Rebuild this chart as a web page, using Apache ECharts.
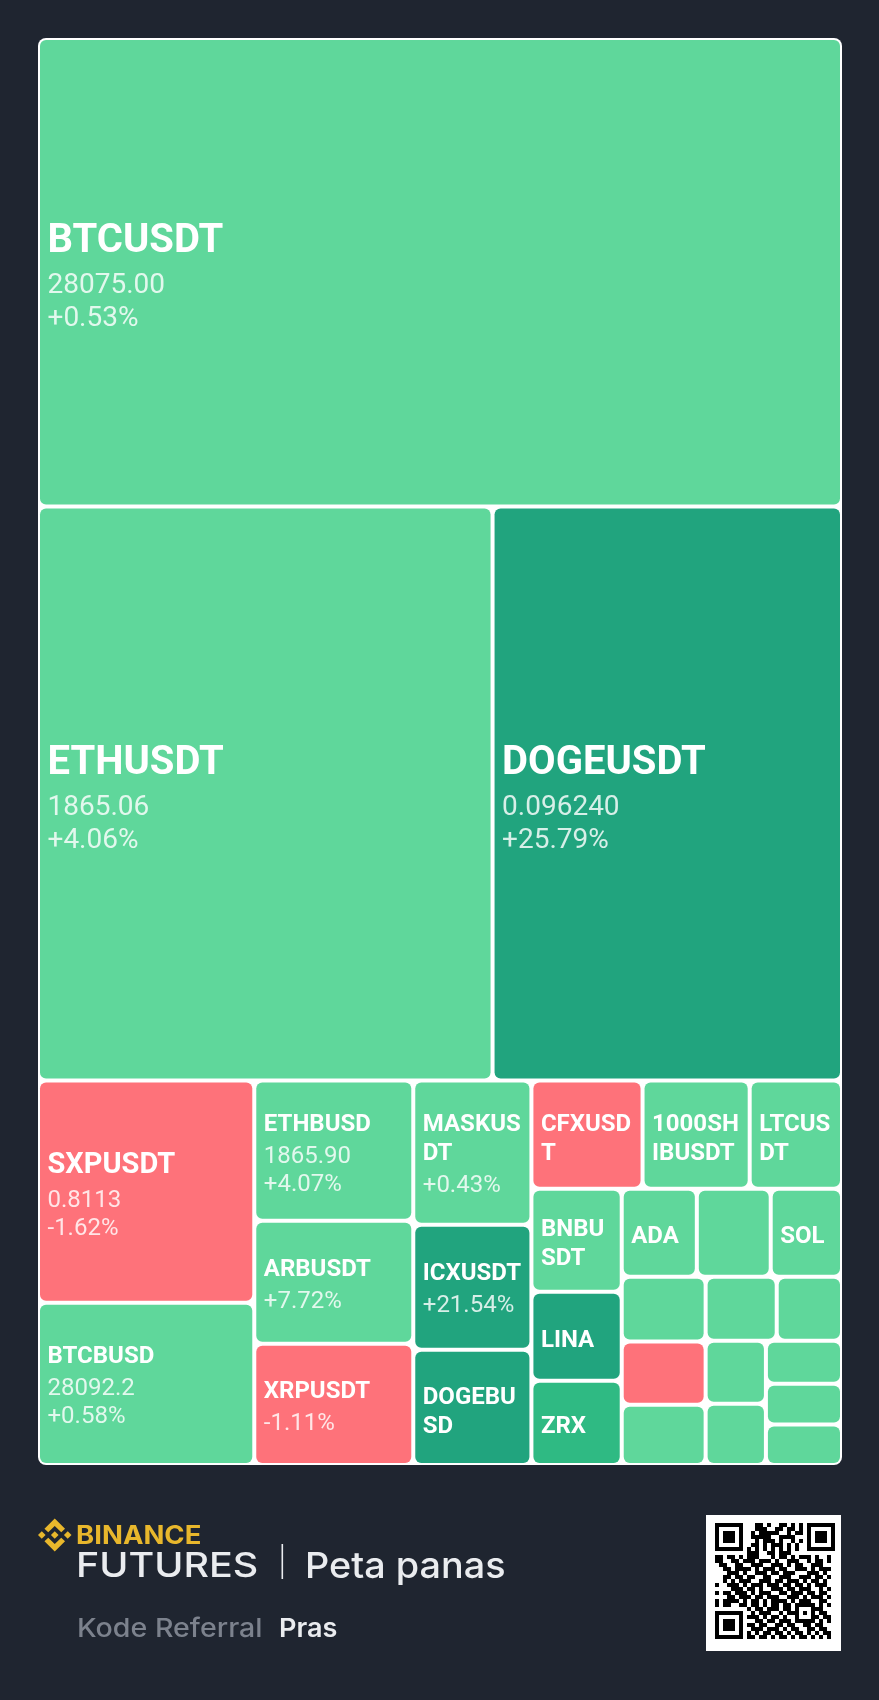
<!DOCTYPE html>
<html><head><meta charset="utf-8">
<style>html,body{margin:0;padding:0;background:#1f2530}#c{width:879px;height:1700px}</style>
<script src="https://cdn.jsdelivr.net/npm/echarts@6/dist/echarts.min.js"></script>
</head><body><div id="c"></div>
<script>
const symbols = ['BTCUSDT','ETHUSDT','DOGEUSDT','SXPUSDT','BTCBUSD','ETHBUSD','ARBUSDT','XRPUSDT','MASKUS\nDT','ICXUSDT','DOGEBU\nSD','CFXUSD\nT','1000SH\nIBUSDT','LTCUS\nDT','BNBU\nSDT','LINA','ZRX','ADA','','SOL','','','','','','','','','',''];
const prices = ['28075.00','1865.06','0.096240','0.8113','28092.2','1865.90'];
const changes = ['+0.53%','+4.06%','+25.79%','-1.62%','+0.58%','+4.07%','+7.72%','-1.11%','+0.43%','+21.54%'];
const weights = [376206,260596,200326,48017,35035,22264,19532,19262,17016,14750,13605,12010,11577,9976,9291,8037,7595,6600,6494,6266,5430,5296,5053,4551,4179,3793,3684,3268,3093,3078];
const tones = ['g','g','d','r','g','g','g','r','g','d','d','r','g','g','g','d','m','g','g','g','g','r','g','g','g','g','g','g','g','g'];
const nameSizes = [40,40,40,29];
const priceSizes = [28,28,28,24];
const labelTops = [174,227.5,227.5,62,34.5,24.2,29.2,27.8,31.2,29.5,34.8,31.2,31.2,31.2,28.2,28.8,25.8,28.8,0,28.8];
const palette = {g:'#5fd79b',d:'#21a47e',m:'#2fba83',r:'#fe727a'};
const layoutTree = [0,[1,2],[[3,4],[[5,6,7],[[8,9,10],[[11,12,13],[[14,15,16],[[17,18,19],[[20,21,22],[[23,24],[[25,26],[27,28,29]]]]]]]]]]];
const qrRows = [
"11111110001101001101010"+"1111111",
"10000010001110011011010"+"1000001",
"10111010010111110010110"+"1011101",
"10111010011111001111000"+"1011101",
"10111010001011101001010"+"1011101",
"10000010011010111010100"+"1000001",
"11111110101010101010100"+"1111111",
"00000000"+"1110011011100"+"00000000",
"11011010111000101101011101001",
"11001101110111010011100101101",
"01100110011100111010110011100",
"00110111101011101100111010111",
"00011101001110110111000111010",
"00110110110011001110011101101",
"00101011100111011011101011010",
"10011101011101110110110101110",
"00001110110100111011011100101",
"10110111010111001101110110110",
"00011011101101110011101011101",
"10111101011010111101011100110",
"10110011011010110110"+"11111"+"0101",
"00000000"+"101101110110"+"10001"+"1100",
"11111110"+"010111001011"+"10101"+"0110",
"10000010"+"111010110100"+"10001"+"1011",
"10111010"+"001101101110"+"11111"+"0101",
"10111010"+"110110011011"+"00110"+"1100",
"10111010"+"011101110101"+"10011"+"0110",
"10000010"+"101011011010"+"11010"+"1011",
"11111110"+"110110101101"+"01101"+"0101"
];
const logoShapes = [
 [[38.73,53.2],[63.3,28.63],[87.89,53.21],[102.19,38.91],[63.3,0],[24.42,38.9]],
 [[0,63.31],[14.3,49.01],[28.6,63.31],[14.3,77.61]],
 [[38.73,73.41],[63.3,97.98],[87.9,73.4],[102.2,87.69],[63.3,126.61],[24.42,87.72]],
 [[98.02,63.31],[112.32,49.01],[126.62,63.31],[112.32,77.61]],
 [[77.81,63.3],[63.3,48.79],[48.79,63.29],[63.3,77.8]]
];

function leaf(i){
  const nm = symbols[i];
  const ns = nameSizes[i] || 24, ps = priceSizes[i] || 24;
  const big = i < 3, mid = i === 3;
  const lastLH = big ? 55 : (mid ? 42 : 36);
  const subLH = big ? 33 : 28;
  const parts = nm ? nm.split('\n') : [];
  const lines = parts.map((s,k) => (k === parts.length - 1 ? '{l|' : '{n|') + s + '}');
  if (prices[i]) lines.push('{p|' + prices[i] + '}');
  if (changes[i]) lines.push('{p|' + changes[i] + '}');
  const nameStyle = {fontFamily:'Roboto',fontWeight:'bold',fontSize:ns,color:'#fff',align:'left'};
  return {
    name: nm.replace('\n','') || ('cell' + i),
    value: weights[i],
    itemStyle: {color: palette[tones[i]]},
    label: {
      show: lines.length > 0,
      formatter: lines.join('\n'),
      padding: [labelTops[i] || 0, 0, 0, 7.5],
      rich: {
        n: Object.assign({lineHeight:22}, nameStyle),
        l: Object.assign({lineHeight:lastLH}, nameStyle),
        p: {fontFamily:'Roboto',fontWeight:'normal',fontSize:ps,lineHeight:subLH,color:'rgba(255,255,255,0.82)',align:'left'}
      }
    }
  };
}
function build(n, id){
  if (typeof n === 'number') return leaf(n);
  const children = n.map((c,k) => build(c, id + '-' + k));
  return {name:'g' + id, value: children.reduce((a,c) => a + c.value, 0), children};
}
const seriesData = layoutTree.map((n,k) => build(n, 't' + k));

function footText(x, y, sx, text, font, fill){
  return {type:'text',x:x,y:y,scaleX:sx,silent:true,style:{x:0,y:0,text:text,font:font,fill:fill,textVerticalAlign:'middle'}};
}
const footer = [
  {type:'rect',shape:{x:706,y:1515,width:135,height:136},style:{fill:'#fff'}},
  footText(76,1536,1.1,'BINANCE','bold 25px Inter','#e8b72c'),
  footText(76,1567,1.16,'FUTURES','500 34px Inter','#eaecef'),
  {type:'rect',shape:{x:281.5,y:1544,width:1.6,height:35},style:{fill:'#eaecef'}},
  footText(305,1567,1.05,'Peta panas','500 36px Inter','#eaecef'),
  footText(77,1629,1.1,'Kode Referral','500 26px Inter','#7c828d'),
  footText(279,1629,1.04,'Pras','600 26px Inter','#eaecef')
];
logoShapes.forEach(pts => footer.push({type:'polygon',silent:true,
  shape:{points:pts.map(p => [38 + p[0]*33.5/126.62, 1518.5 + p[1]*33/126.61])},style:{fill:'#e8b72c'}}));
qrRows.forEach((row,r) => { for (let c=0;c<row.length;c++) if (row[c]==='1')
  footer.push({type:'rect',silent:true,shape:{x:715+c*4,y:1523+r*4,width:4,height:4},style:{fill:'#000'}}); });

const chart = echarts.init(document.getElementById('c'),null,{renderer:'canvas'});
chart.setOption({
  animation:false,
  backgroundColor:'#1f2530',
  graphic:footer,
  series:[{
    type:'treemap',
    left:38,top:38,width:804,height:1427,
    sort:false,squareRatio:1.05,
    roam:false,nodeClick:false,visibleMin:0,
    breadcrumb:{show:false},
    label:{show:true,position:'insideTopLeft',distance:0,overflow:'none',color:'#fff'},
    upperLabel:{show:false},
    itemStyle:{borderWidth:0,gapWidth:4,borderColor:'#fff',borderRadius:6},
    levels:[{itemStyle:{borderWidth:2,gapWidth:4,borderColor:'#fff',borderRadius:8}}],
    data:seriesData
  }]
});
</script></body></html>
